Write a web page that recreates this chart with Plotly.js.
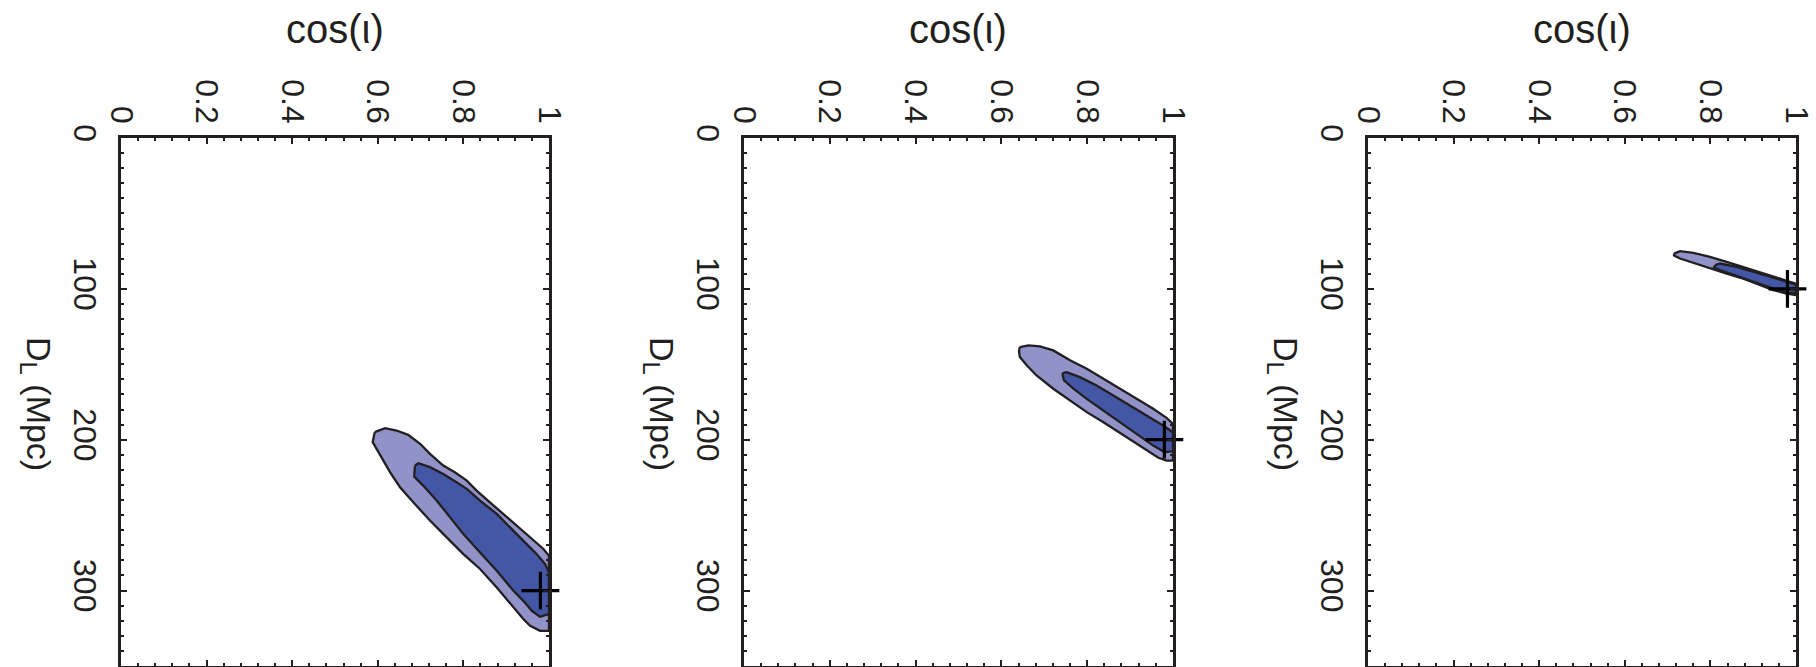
<!DOCTYPE html>
<html>
<head>
<meta charset="utf-8">
<script src="https://cdn.plot.ly/plotly-3.0.1.min.js"></script>
<style>
  html, body { margin: 0; padding: 0; background: #ffffff; }
  #chart { width: 1816px; height: 667px; }
</style>
</head>
<body>
<div id="chart"></div>
<script>
// ---------- data ----------
// panel order left -> right: true D_L = 300, 200, 100 Mpc
const trueDL  = [300, 200, 100];
const trueCos = [0.98, 0.98, 0.98];

// Panel 1 (D_L = 300 Mpc)
const p1OuterDL  = [195.0, 192.3, 193.9, 196.8, 202.7, 209.4, 217.1, 221.6, 227.1, 233.7, 241.5, 249.2, 257.0, 264.7, 272.4, 276.9, 326.7, 326.7, 323.4, 318.9, 311.2, 297.9, 285.7, 275.8, 264.7, 253.6, 241.5, 231.5, 221.6, 213.8, 206.0, 201.6, 195.0];
const p1OuterCos = [0.593, 0.617, 0.644, 0.671, 0.699, 0.722, 0.753, 0.780, 0.808, 0.831, 0.862, 0.893, 0.925, 0.956, 0.987, 1.000, 1.000, 0.979, 0.956, 0.940, 0.917, 0.878, 0.839, 0.800, 0.761, 0.722, 0.683, 0.652, 0.629, 0.613, 0.597, 0.588, 0.593];
const p1InnerDL  = [217.1, 215.6, 218.2, 222.7, 228.2, 232.6, 240.4, 249.2, 258.1, 266.9, 275.8, 282.4, 288.0, 315.6, 317.4, 313.4, 306.8, 300.1, 286.9, 274.7, 262.5, 251.5, 240.4, 230.4, 224.4, 217.1];
const p1InnerCos = [0.687, 0.695, 0.722, 0.753, 0.784, 0.808, 0.839, 0.878, 0.909, 0.940, 0.971, 0.991, 1.000, 1.000, 0.979, 0.960, 0.940, 0.917, 0.878, 0.839, 0.800, 0.769, 0.738, 0.706, 0.685, 0.687];

// Panel 2 (D_L = 200 Mpc)
const p2OuterDL  = [138.6, 137.5, 138.1, 140.8, 147.4, 152.9, 159.6, 166.2, 172.9, 179.5, 185.5, 189.5, 213.8, 213.8, 212.0, 208.3, 202.7, 195.7, 188.4, 181.7, 174.0, 166.2, 157.4, 150.7, 145.2, 141.2, 138.6];
const p2OuterCos = [0.643, 0.663, 0.690, 0.721, 0.760, 0.799, 0.838, 0.876, 0.915, 0.954, 0.985, 1.000, 1.000, 0.985, 0.966, 0.946, 0.915, 0.876, 0.838, 0.799, 0.760, 0.721, 0.682, 0.659, 0.643, 0.641, 0.643];
const p2InnerDL  = [155.8, 155.2, 158.5, 164.0, 170.7, 177.3, 183.9, 190.6, 195.0, 207.6, 208.3, 203.9, 196.1, 188.4, 180.6, 172.9, 166.2, 160.7, 157.4, 155.8];
const p2InnerCos = [0.743, 0.752, 0.783, 0.822, 0.861, 0.900, 0.939, 0.977, 1.000, 1.000, 0.981, 0.954, 0.915, 0.876, 0.838, 0.799, 0.768, 0.746, 0.743, 0.743];

// Panel 3 (D_L = 100 Mpc)
const p3OuterDL  = [76.6, 75.0, 76.1, 78.8, 82.1, 85.4, 88.8, 92.5, 95.4, 96.5, 104.2, 103.1, 100.9, 97.6, 93.2, 89.9, 86.5, 82.8, 79.9, 77.9, 76.6];
const p3OuterCos = [0.715, 0.729, 0.760, 0.799, 0.838, 0.877, 0.916, 0.955, 0.986, 1.000, 1.000, 0.978, 0.947, 0.916, 0.877, 0.838, 0.799, 0.760, 0.729, 0.715, 0.715];
const p3InnerDL  = [84.3, 83.2, 85.4, 89.2, 93.2, 96.1, 97.2, 102.7, 102.7, 99.8, 96.1, 91.6, 87.6, 85.9, 84.3];
const p3InnerCos = [0.811, 0.822, 0.861, 0.908, 0.955, 0.986, 1.000, 1.000, 0.982, 0.947, 0.908, 0.861, 0.822, 0.808, 0.811];

// axis ticks
const cosTicks   = [0, 0.2, 0.4, 0.6, 0.8, 1];
const cosLabels  = ['0', '0.2', '0.4', '0.6', '0.8', '1'];
const dlTicks    = [0, 100, 200, 300];
const dlLabels   = ['0', '100', '200', '300'];
const xTitleText = 'cos(ι)';
const yTitleText = 'D<sub>L</sub> (Mpc)';

// ---------- styles ----------
const FONT = '"Liberation Sans", Arial, Helvetica, sans-serif';
const INK = '#231f20';
const OUTER_FILL = '#9192c8';
const INNER_FILL = '#4357a6';

const panels = [
  {outer: [p1OuterCos, p1OuterDL], inner: [p1InnerCos, p1InnerDL]},
  {outer: [p2OuterCos, p2OuterDL], inner: [p2InnerCos, p2InnerDL]},
  {outer: [p3OuterCos, p3OuterDL], inner: [p3InnerCos, p3InnerDL]}
];

const xDomains = [[0.0666, 0.3023], [0.4097, 0.6459], [0.7533, 0.9890]];
const yDomain = [0.0015, 0.7931];

const traces = [];
panels.forEach((p, i) => {
  const xa = i === 0 ? 'x' : 'x' + (i + 1);
  const ya = i === 0 ? 'y' : 'y' + (i + 1);
  traces.push({
    type: 'scatter', mode: 'lines', x: p.outer[0], y: p.outer[1],
    xaxis: xa, yaxis: ya, fill: 'toself', fillcolor: OUTER_FILL,
    line: {color: INK, width: 2.3}, hoverinfo: 'skip', showlegend: false
  });
  traces.push({
    type: 'scatter', mode: 'lines', x: p.inner[0], y: p.inner[1],
    xaxis: xa, yaxis: ya, fill: 'toself', fillcolor: INNER_FILL,
    line: {color: INK, width: 2.3}, hoverinfo: 'skip', showlegend: false
  });
  traces.push({
    type: 'scatter', mode: 'markers', x: [trueCos[i]], y: [trueDL[i]],
    xaxis: xa, yaxis: ya, cliponaxis: false,
    marker: {symbol: 'cross-thin', size: 27, line: {color: '#000', width: 3.2}},
    hoverinfo: 'skip', showlegend: false
  });
});

const layout = {
  width: 1816, height: 667,
  margin: {l: 0, r: 0, t: 0, b: 0},
  paper_bgcolor: '#ffffff', plot_bgcolor: '#ffffff',
  font: {family: FONT, color: INK, size: 32},
  showlegend: false,
  annotations: []
};

xDomains.forEach((dom, i) => {
  const sfx = i === 0 ? '' : String(i + 1);
  layout['xaxis' + sfx] = {
    domain: dom, anchor: 'y' + sfx, side: 'top',
    range: [0, 1], showgrid: false, zeroline: false,
    showline: true, linecolor: INK, linewidth: 3, mirror: 'allticks',
    ticks: 'inside', ticklen: 6, tickwidth: 2, tickcolor: INK,
    tickvals: cosTicks, ticktext: cosLabels, tickangle: 90,
    tickfont: {family: FONT, size: 32, color: INK},
    ticklabelstandoff: 0,
    minor: {dtick: 0.04, tick0: 0, ticks: 'inside', ticklen: 3, tickwidth: 2, tickcolor: INK, showgrid: false},
    fixedrange: true
  };
  layout['yaxis' + sfx] = {
    domain: yDomain, anchor: 'x' + sfx,
    range: [350, 0], showgrid: false, zeroline: false,
    showline: true, linecolor: INK, linewidth: 3, mirror: 'allticks',
    ticks: 'inside', ticklen: 6, tickwidth: 2, tickcolor: INK,
    tickvals: dlTicks, ticktext: dlLabels, tickangle: 90,
    tickfont: {family: FONT, size: 32, color: INK},
    ticklabelstandoff: 6,
    minor: {dtick: 10, tick0: 0, ticks: 'inside', ticklen: 3, tickwidth: 2, tickcolor: INK, showgrid: false},
    fixedrange: true
  };
  // axis titles as annotations (figure is rotated 90 degrees)
  layout.annotations.push({
    xref: 'paper', yref: 'paper', x: (dom[0] + dom[1]) / 2, y: 1 - 29 / 667,
    xanchor: 'center', yanchor: 'middle', showarrow: false,
    text: xTitleText, font: {family: FONT, size: 40, color: INK}
  });
  layout.annotations.push({
    xref: 'paper', yref: 'paper', x: dom[0] - 84 / 1816, y: 1 - 404 / 667,
    xanchor: 'center', yanchor: 'middle', showarrow: false, textangle: 90,
    text: yTitleText, font: {family: FONT, size: 34, color: INK}
  });
});

Plotly.newPlot('chart', traces, layout, {staticPlot: true, displayModeBar: false});
</script>
</body>
</html>
